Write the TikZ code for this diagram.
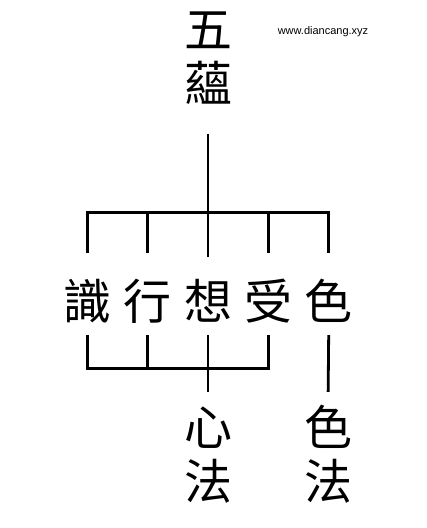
\documentclass[tikz,border=0pt]{standalone}
\usepackage{fontspec}
\setmainfont{Liberation Sans}
\newfontfamily\cjk{Noto Sans CJK TC}
\usetikzlibrary{positioning}

\begin{document}
\begin{tikzpicture}[
    x=1pt, y=1pt,
    node distance=9pt and 12pt,
    zi/.style={font=\cjk\fontsize{48}{53}\selectfont, inner sep=0pt, text height=40pt, text depth=4pt},
    site/.style={font=\fontsize{11}{13}\selectfont, inner sep=0pt},
    link/.style={line width=2.8pt, draw=black}
  ]
    \useasboundingbox (0,0) rectangle (427,528);

    % Title
    \node[zi] (wu) at (208,498) {五};
    \node[zi, below=of wu] (yun) {蘊};
    \node[site] (web) at (323,496) {www.diancang.xyz};

    % Five aggregates
    \node[zi] (xiang) at (208,226) {想};
    \node[zi, left=of xiang] (xing) {行};
    \node[zi, left=of xing] (shi) {識};
    \node[zi, right=of xiang] (shou) {受};
    \node[zi, right=of shou] (se) {色};

    % Mind and matter
    \node[zi] (xin) at (208,100) {心};
    \node[zi, below=of xin] (xinfa) {法};
    \node[zi] (sezi) at (328,100) {色};
    \node[zi, below=of sezi] (sefa) {法};

    % Upper bracket
    \draw[link, shorten <=28pt, shorten >=23pt] (yun.south) -- (xiang.north);
    \draw[link] ([yshift=27pt]shi.north) -- ++(0,40) -| ([yshift=27pt]se.north);
    \foreach \n in {xing,shou}
      \draw[link] ([yshift=27pt]\n.north) -- ++(0,40);

    % Lower bracket
    \draw[link] ([yshift=-11pt]shi.south) -- ++(0,-33) -| ([yshift=-11pt]shou.south);
    \draw[link] ([yshift=-11pt]xing.south) -- ++(0,-33);
    \draw[link, shorten <=11pt, shorten >=14pt] (xiang.south) -- (xin.north);
    \draw[link, shorten <=11pt, shorten >=14pt] (se.south) -- (sezi.north);

\end{tikzpicture}
\end{document}
